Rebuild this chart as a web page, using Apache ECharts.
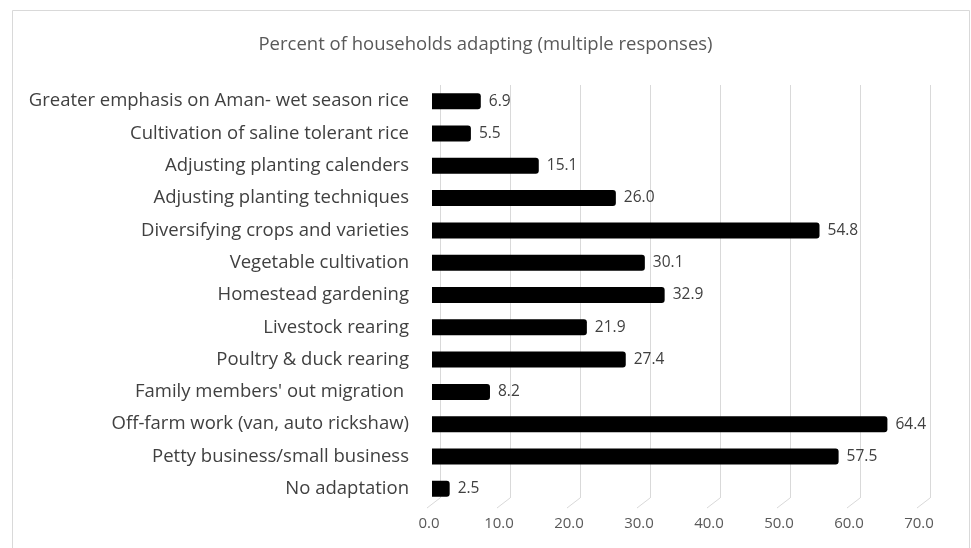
<!DOCTYPE html>
<html>
<head>
<meta charset="utf-8">
<script src="https://cdn.jsdelivr.net/npm/echarts@6/dist/echarts.min.js"></script>
<style>html,body{margin:0;padding:0;background:#fff}#c{width:971px;height:548px}</style>
</head>
<body>
<div id="c"></div>
<script>
const categories = [
  "Greater emphasis on Aman- wet season rice",
  "Cultivation of saline tolerant rice",
  "Adjusting planting calenders",
  "Adjusting planting techniques",
  "Diversifying crops and varieties",
  "Vegetable cultivation",
  "Homestead gardening",
  "Livestock rearing",
  "Poultry & duck rearing",
  "Family members' out migration ",
  "Off-farm work (van, auto rickshaw)",
  "Petty business/small business",
  "No adaptation"
];
const values = [6.9, 5.5, 15.1, 26.0, 54.8, 30.1, 32.9, 21.9, 27.4, 8.2, 64.4, 57.5, 2.5];
const xTicks = [0, 10, 20, 30, 40, 50, 60, 70];
const titleText = "Percent of households adapting (multiple responses)";

const chart = echarts.init(document.getElementById('c'));
const FONT = 'Open Sans';
chart.setOption({
  animation: false,
  backgroundColor: '#fff',
  title: {
    text: titleText, left: 'center', top: 30,
    textStyle: { fontFamily: FONT, fontSize: 18.5, fontWeight: 'normal', color: '#595959' }
  },
  graphic: [{
    type: 'rect', shape: { x: 12.5, y: 10.5, width: 957, height: 600 },
    style: { fill: 'none', stroke: '#d9d9d9', lineWidth: 1 }, silent: true, z: -10
  }],
  grid: [
    { left: 432, right: 44, top: 85, bottom: 43 },
    { left: 440, right: 41, top: 85, bottom: 50 }
  ],
  xAxis: [
    { gridIndex: 0, type: 'value', min: 0, max: 70, interval: 10,
      axisLabel: { show: false }, splitLine: { show: false }, axisLine: { show: false }, axisTick: { show: false } },
    { gridIndex: 1, type: 'value', min: 0, max: 70, interval: 10,
      axisLine: { show: false }, axisTick: { show: false },
      splitLine: { show: true, lineStyle: { color: '#d9d9d9', width: 1 } },
      axisLabel: { margin: 18, color: '#595959', fontFamily: FONT, fontSize: 15,
        formatter: v => v.toFixed(1), padding: [0, 22, 0, 0] } }
  ],
  yAxis: [
    { gridIndex: 0, type: 'category', data: categories, inverse: true,
      axisLine: { show: false }, axisTick: { show: false },
      axisLabel: { margin: 23, color: '#404040', fontFamily: FONT, fontSize: 18.5 } },
    { gridIndex: 1, type: 'value', min: 0, max: 1, show: false }
  ],
  series: [
    { type: 'custom', xAxisIndex: 1, yAxisIndex: 1, silent: true, z: 1,
      data: xTicks.map(v => [v]),
      renderItem: (params, api) => {
        const p = api.coord([api.value(0), 0]);
        return { type: 'line', shape: { x1: p[0], y1: p[1], x2: p[0] - 13, y2: p[1] + 10 },
          style: { stroke: '#d9d9d9', lineWidth: 1 } };
      }
    },
    { type: 'bar', xAxisIndex: 0, yAxisIndex: 0, data: values, barWidth: 16, z: 3,
      itemStyle: { color: '#000', borderRadius: [0, 3, 3, 0] },
      label: { show: true, position: 'right', distance: 8, color: '#404040', fontFamily: FONT, fontSize: 15.5,
        formatter: p => p.value.toFixed(1) } }
  ]
});
</script>
</body>
</html>
